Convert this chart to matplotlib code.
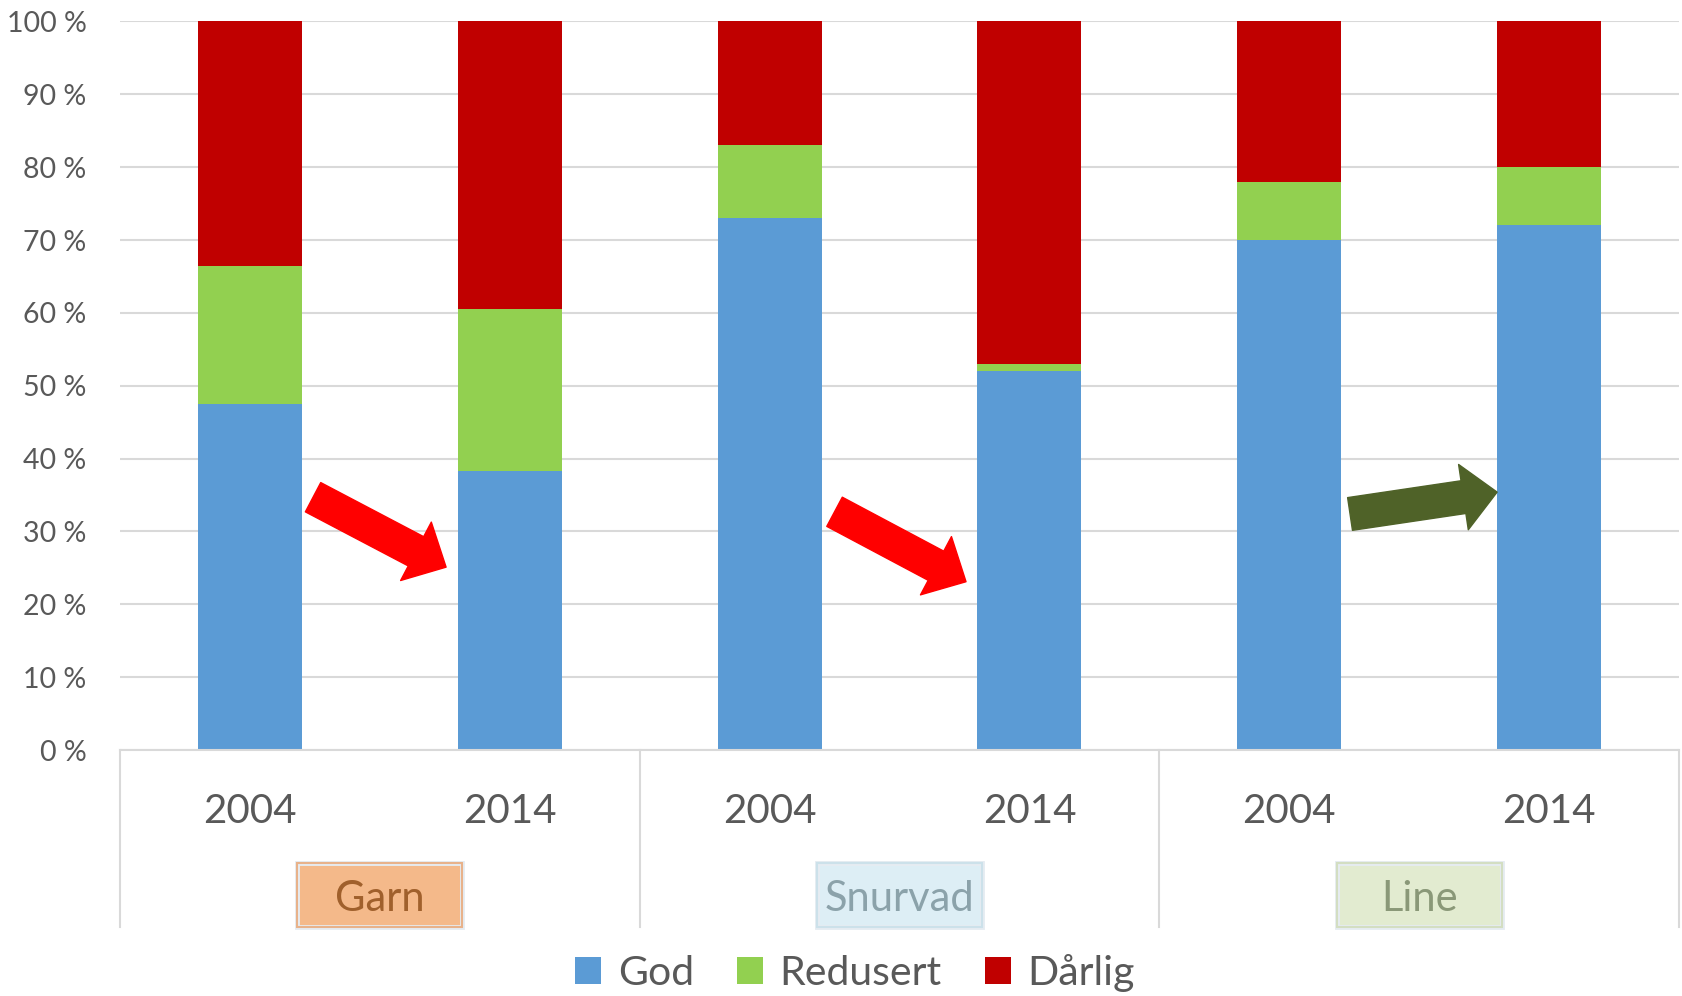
import matplotlib.pyplot as plt
from matplotlib.patches import Rectangle

plt.rcParams['font.family'] = ['Lato', 'DejaVu Sans']

# data
years = ['2004', '2014', '2004', '2014', '2004', '2014']
groups = ['Garn', 'Snurvad', 'Line']
god = [47.5, 38.3, 73.0, 52.0, 70.0, 72.0]
redusert = [19.0, 22.2, 10.0, 1.0, 8.0, 8.0]
darlig = [33.5, 39.5, 17.0, 47.0, 22.0, 20.0]

# trend arrows (tail -> tip, in data units)
arrow_tails = [(0.243, 34.7), (2.250, 32.7), (4.234, 32.4)]
arrow_tips = [(0.755, 25.1), (2.756, 23.1), (4.800, 35.4)]
arrow_colors = ['#FF0000', '#FF0000', '#4F6228']

blue, green, red = '#5B9BD5', '#92D050', '#C00000'
grey_txt = '#595959'
grid_col = '#D9D9D9'

box_face = ['#F4B98A', '#DDEEF5', '#E2EBD0']
box_edge = ['#E8B28A', '#CCE1EA', '#D3DEC2']
box_txt = ['#A0602C', '#8BA2AA', '#8A9878']

fig = plt.figure(figsize=(16.83, 9.96), dpi=100)
ax = fig.add_axes([120 / 1683, 1 - 750 / 996, 1559 / 1683, 728.5 / 996])

x = list(range(len(years)))
bottom2 = [g + r for g, r in zip(god, redusert)]
b1 = ax.bar(x, god, width=0.4, color=blue, zorder=2, label='God')
b2 = ax.bar(x, redusert, width=0.4, bottom=god, color=green, zorder=2, label='Redusert')
b3 = ax.bar(x, darlig, width=0.4, bottom=bottom2, color=red, zorder=2, label='Dårlig')

ax.set_xlim(-0.5, 5.5)
ax.set_ylim(0, 100)
ax.set_yticks(range(0, 101, 10))
ax.set_yticklabels([f'{v} %' for v in range(0, 101, 10)], fontsize=20.5, color=grey_txt)
ax.tick_params(axis='y', length=0, pad=24)
ax.set_xticks([])
ax.yaxis.grid(True, color=grid_col, linewidth=1.5, zorder=0)
for s in ['top', 'right', 'left']:
    ax.spines[s].set_visible(False)
ax.spines['bottom'].set_color(grid_col)
ax.spines['bottom'].set_linewidth(1.5)

xt = ax.get_xaxis_transform()
# year labels
for xi, yr in zip(x, years):
    ax.text(xi, -0.085, yr, transform=xt, ha='center', va='center',
            fontsize=29, color=grey_txt)

# group separators
for xs in [-0.5, 1.5, 3.5, 5.5]:
    ax.plot([xs, xs], [0, -0.243], transform=xt, color=grid_col,
            linewidth=1.5, clip_on=False)

# group label boxes
bw, bh = 0.635, 64 / 728.5
for i, g in enumerate(groups):
    cx = 2 * i + 0.5
    cy = -0.199
    ax.add_patch(Rectangle((cx - bw / 2, cy - bh / 2), bw, bh, transform=xt,
                           facecolor=box_face[i], edgecolor='#E6ECF2',
                           linewidth=3.5, clip_on=False))
    ax.add_patch(Rectangle((cx - bw / 2, cy - bh / 2), bw, bh, transform=xt,
                           facecolor='none', edgecolor=box_edge[i],
                           linewidth=1.5, clip_on=False))
    ax.text(cx, cy - 0.006, g, transform=xt, ha='center', va='center',
            fontsize=30, color=box_txt[i])

# arrows
for tail, tip, c in zip(arrow_tails, arrow_tips, arrow_colors):
    ax.annotate('', xy=tip, xytext=tail,
                arrowprops=dict(arrowstyle='simple,head_length=2.45,head_width=4.75,tail_width=2.38',
                                color=c, shrinkA=0, shrinkB=0, mutation_scale=10),
                zorder=5)

fig.legend(handles=[b1, b2, b3], labels=['God', 'Redusert', 'Dårlig'],
           loc='center', bbox_to_anchor=(855 / 1683, 1 - 973 / 996), ncol=3,
           frameon=False, fontsize=29.5, handlelength=0.64, handleheight=0.64,
           handletextpad=0.4, columnspacing=1.05, labelcolor=grey_txt)

fig.savefig('out.png', dpi=100)
